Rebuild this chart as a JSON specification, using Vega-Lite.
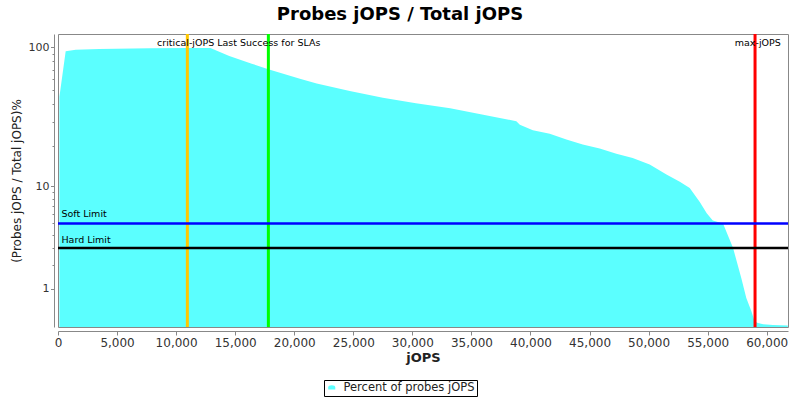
{
  "$schema": "https://vega.github.io/schema/vega-lite/v6.json",
  "width": 730,
  "height": 293,
  "autosize": {"type": "none"},
  "padding": {"left": 58, "top": 34, "right": 12, "bottom": 73},
  "background": "white",
  "config": {
    "view": {"stroke": "#888888", "strokeWidth": 1},
    "font": "DejaVu Sans",
    "axis": {"grid": false, "domainColor": "#888888", "tickColor": "#888888", "labelColor": "#333333", "labelFont": "DejaVu Sans", "titleFont": "DejaVu Sans", "titleColor": "#222222"}
  },
  "title": {"text": "Probes jOPS / Total jOPS", "fontSize": 18, "font": "DejaVu Sans", "fontWeight": "bold", "color": "#000000", "anchor": "middle", "dx": -23, "offset": 9},
  "datasets": {
    "probes": [
      {"jops": 120, "pct": 45, "series": "Percent of probes jOPS"},
      {"jops": 650, "pct": 94, "series": "Percent of probes jOPS"},
      {"jops": 1500, "pct": 96.5, "series": "Percent of probes jOPS"},
      {"jops": 3500, "pct": 97.5, "series": "Percent of probes jOPS"},
      {"jops": 7800, "pct": 98.5, "series": "Percent of probes jOPS"},
      {"jops": 11000, "pct": 99, "series": "Percent of probes jOPS"},
      {"jops": 12900, "pct": 99, "series": "Percent of probes jOPS"},
      {"jops": 14500, "pct": 87, "series": "Percent of probes jOPS"},
      {"jops": 16400, "pct": 77, "series": "Percent of probes jOPS"},
      {"jops": 17800, "pct": 70.5, "series": "Percent of probes jOPS"},
      {"jops": 20550, "pct": 60.2, "series": "Percent of probes jOPS"},
      {"jops": 21900, "pct": 56, "series": "Percent of probes jOPS"},
      {"jops": 24700, "pct": 49.4, "series": "Percent of probes jOPS"},
      {"jops": 27500, "pct": 44.4, "series": "Percent of probes jOPS"},
      {"jops": 30300, "pct": 40.5, "series": "Percent of probes jOPS"},
      {"jops": 33200, "pct": 37.3, "series": "Percent of probes jOPS"},
      {"jops": 36000, "pct": 33.6, "series": "Percent of probes jOPS"},
      {"jops": 37400, "pct": 31.8, "series": "Percent of probes jOPS"},
      {"jops": 38800, "pct": 30.2, "series": "Percent of probes jOPS"},
      {"jops": 39100, "pct": 28.5, "series": "Percent of probes jOPS"},
      {"jops": 40200, "pct": 26, "series": "Percent of probes jOPS"},
      {"jops": 41630, "pct": 24.5, "series": "Percent of probes jOPS"},
      {"jops": 43040, "pct": 22.3, "series": "Percent of probes jOPS"},
      {"jops": 44420, "pct": 20.5, "series": "Percent of probes jOPS"},
      {"jops": 45860, "pct": 19.2, "series": "Percent of probes jOPS"},
      {"jops": 47270, "pct": 17.5, "series": "Percent of probes jOPS"},
      {"jops": 48650, "pct": 16.3, "series": "Percent of probes jOPS"},
      {"jops": 50090, "pct": 14.6, "series": "Percent of probes jOPS"},
      {"jops": 51510, "pct": 12.3, "series": "Percent of probes jOPS"},
      {"jops": 52640, "pct": 10.8, "series": "Percent of probes jOPS"},
      {"jops": 53480, "pct": 9.7, "series": "Percent of probes jOPS"},
      {"jops": 54330, "pct": 7.5, "series": "Percent of probes jOPS"},
      {"jops": 54920, "pct": 6.1, "series": "Percent of probes jOPS"},
      {"jops": 55430, "pct": 5.3, "series": "Percent of probes jOPS"},
      {"jops": 56300, "pct": 5.0, "series": "Percent of probes jOPS"},
      {"jops": 57150, "pct": 3.0, "series": "Percent of probes jOPS"},
      {"jops": 57850, "pct": 1.4, "series": "Percent of probes jOPS"},
      {"jops": 58270, "pct": 0.7, "series": "Percent of probes jOPS"},
      {"jops": 58700, "pct": 0.34, "series": "Percent of probes jOPS"},
      {"jops": 58980, "pct": 0.11, "series": "Percent of probes jOPS"},
      {"jops": 59260, "pct": 0.08, "series": "Percent of probes jOPS"},
      {"jops": 59690, "pct": 0.055, "series": "Percent of probes jOPS"},
      {"jops": 60530, "pct": 0.04, "series": "Percent of probes jOPS"},
      {"jops": 61780, "pct": 0.03, "series": "Percent of probes jOPS"}
    ]
  },
  "layer": [
    {
      "data": {"name": "probes"},
      "mark": {"type": "area", "interpolate": "linear", "opacity": 1},
      "encoding": {
        "x": {
          "field": "jops", "type": "quantitative",
          "scale": {"domain": [0, 61800], "nice": false, "zero": false},
          "axis": {"title": "jOPS", "titleFontSize": 13, "titleFontWeight": "bold", "values": [0, 5000, 10000, 15000, 20000, 25000, 30000, 35000, 40000, 45000, 50000, 55000, 60000], "labelExpr": "format(datum.value, ',')", "offset": 4, "tickSize": 4, "labelFontSize": 12, "labelPadding": 2, "titlePadding": 3, "labelFlush": false, "labelOverlap": false}
        },
        "y": {
          "field": "pct", "type": "quantitative",
          "scale": {"type": "symlog", "constant": 1.2, "domain": [0, 124], "nice": false},
          "axis": {
            "title": "(Probes jOPS / Total jOPS)%", "titleFontSize": 12, "titleFontWeight": "normal",
            "values": [1, 2, 3, 4, 5, 6, 7, 8, 9, 10, 20, 30, 40, 50, 60, 70, 80, 90, 100],
            "tickCount": 60,
            "labelExpr": "(datum.value == 1 || datum.value == 10 || datum.value == 100) ? format(datum.value, 'd') : ''",
            "tickSize": {"condition": {"test": "datum.value == 1 || datum.value == 10 || datum.value == 100", "value": 3.5}, "value": 2},
            "offset": 4, "labelFontSize": 11, "labelPadding": 1.5, "titlePadding": 5, "labelOverlap": false
          }
        },
        "color": {
          "field": "series", "type": "nominal",
          "scale": {"range": ["#5BFFFF"]},
          "legend": {"title": null, "orient": "none", "legendX": 266, "legendY": 346, "strokeColor": "#000000", "padding": 2, "labelFontSize": 11.5, "labelColor": "#222222", "labelFont": "DejaVu Sans", "symbolType": "M-1,0.5L-1,-0.1Q-1,-0.7 0,-0.7Q1,-0.7 1,-0.1L1,0.5Z", "symbolSize": 50, "symbolStrokeWidth": 0, "symbolOpacity": 1, "cornerRadius": 0, "fillColor": "white", "labelOffset": 6}
        }
      }
    },
    {
      "data": {"values": [{"jops": 10950}]},
      "mark": {"type": "rule", "color": "#FFC800", "strokeWidth": 3},
      "encoding": {"x": {"field": "jops", "type": "quantitative"}}
    },
    {
      "data": {"values": [{"jops": 17810}]},
      "mark": {"type": "rule", "color": "#00FF00", "strokeWidth": 3},
      "encoding": {"x": {"field": "jops", "type": "quantitative"}}
    },
    {
      "data": {"values": [{"jops": 59010}]},
      "mark": {"type": "rule", "color": "#FF0000", "strokeWidth": 3},
      "encoding": {"x": {"field": "jops", "type": "quantitative"}}
    },
    {
      "data": {"values": [{"pct": 5}]},
      "mark": {"type": "rule", "color": "#0000FF", "strokeWidth": 2.5},
      "encoding": {"y": {"field": "pct", "type": "quantitative"}}
    },
    {
      "data": {"values": [{"pct": 3}]},
      "mark": {"type": "rule", "color": "#000000", "strokeWidth": 2.5},
      "encoding": {"y": {"field": "pct", "type": "quantitative"}}
    },
    {
      "data": {"values": [{"jops": 15300, "pct": 102, "label": "critical-jOPS Last Success for SLAs"}]},
      "mark": {"type": "text", "fontSize": 9.5, "font": "DejaVu Sans", "align": "center", "baseline": "alphabetic", "color": "#000000"},
      "encoding": {"x": {"field": "jops", "type": "quantitative"}, "y": {"field": "pct", "type": "quantitative"}, "text": {"field": "label"}}
    },
    {
      "data": {"values": [{"jops": 59240, "pct": 102, "label": "max-jOPS"}]},
      "mark": {"type": "text", "fontSize": 9.5, "font": "DejaVu Sans", "align": "center", "baseline": "alphabetic", "color": "#000000"},
      "encoding": {"x": {"field": "jops", "type": "quantitative"}, "y": {"field": "pct", "type": "quantitative"}, "text": {"field": "label"}}
    },
    {
      "data": {"values": [{"jops": 290, "pct": 5, "label": "Soft Limit"}]},
      "mark": {"type": "text", "fontSize": 9.5, "font": "DejaVu Sans", "align": "left", "baseline": "alphabetic", "dy": -6, "color": "#000000"},
      "encoding": {"x": {"field": "jops", "type": "quantitative"}, "y": {"field": "pct", "type": "quantitative"}, "text": {"field": "label"}}
    },
    {
      "data": {"values": [{"jops": 290, "pct": 3, "label": "Hard Limit"}]},
      "mark": {"type": "text", "fontSize": 9.5, "font": "DejaVu Sans", "align": "left", "baseline": "alphabetic", "dy": -5, "color": "#000000"},
      "encoding": {"x": {"field": "jops", "type": "quantitative"}, "y": {"field": "pct", "type": "quantitative"}, "text": {"field": "label"}}
    }
  ]
}
